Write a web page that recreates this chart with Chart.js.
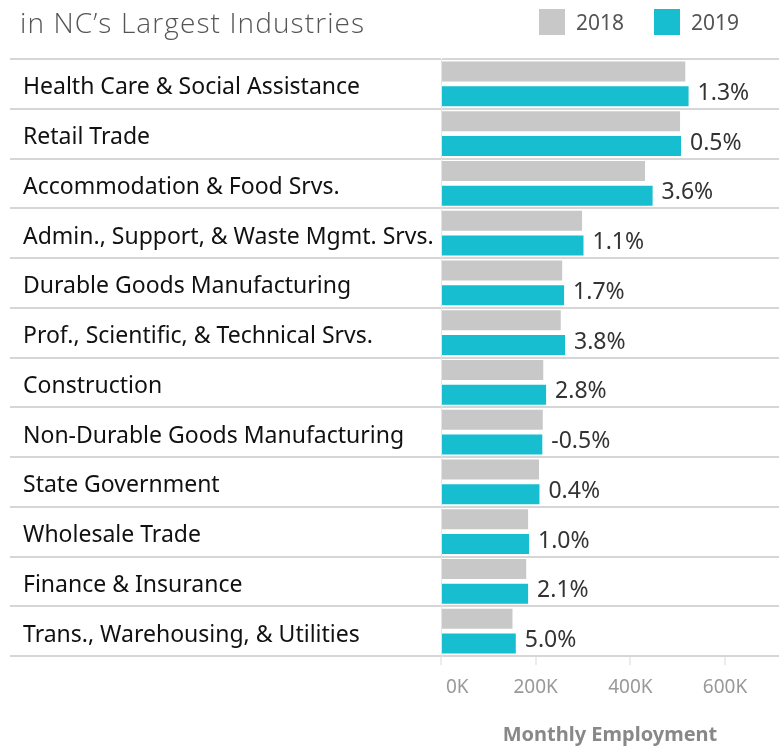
<!DOCTYPE html>
<html>
<head>
<meta charset="utf-8">
<script src="https://cdn.jsdelivr.net/npm/chart.js@4"></script>
<style>
  html, body { margin: 0; padding: 0; background: #fff; }
  #wrap { position: relative; width: 779px; height: 747px; }
  #title { position: absolute; left: 20px; top: 3px; font: 300 28px "Open Sans", sans-serif; letter-spacing: 1.1px; color: #555; white-space: nowrap; }
  #legend { position: absolute; top: 9px; left: 0; width: 779px; height: 26px; font: 21px "Noto Sans", sans-serif; color: #555; }
  #legend .box { position: absolute; top: 0; width: 26px; height: 26px; }
  #legend .lbl { position: absolute; top: -2px; line-height: 30px; }
  canvas { position: absolute; left: 0; top: 0; }
</style>
</head>
<body>
<div id="wrap">
  <canvas id="chart" width="779" height="747"></canvas>
  <div id="title">in NC’s Largest Industries</div>
  <div id="legend"></div>
</div>
<script>
"use strict";

const industries = [
  'Health Care & Social Assistance',
  'Retail Trade',
  'Accommodation & Food Srvs.',
  'Admin., Support, & Waste Mgmt. Srvs.',
  'Durable Goods Manufacturing',
  'Prof., Scientific, & Technical Srvs.',
  'Construction',
  'Non-Durable Goods Manufacturing',
  'State Government',
  'Wholesale Trade',
  'Finance & Insurance',
  'Trans., Warehousing, & Utilities'
];
const employment2018 = [516000, 505000, 431000, 298000, 256000, 253000, 216000, 215000, 207000, 184000, 180000, 151000];
const employment2019 = [523000, 507000, 447000, 301000, 260000, 262000, 222000, 214000, 208000, 186000, 184000, 158000];
const changeLabels = ['1.3%', '0.5%', '3.6%', '1.1%', '1.7%', '3.8%', '2.8%', '-0.5%', '0.4%', '1.0%', '2.1%', '5.0%'];
const xTicks = [0, 200000, 400000, 600000];

const GRAY = '#c8c8c8';
const TEAL = '#17becf';

// 2019バーの右に増減率を描く
const changeLabelPlugin = {
  id: 'changeLabels',
  afterDatasetsDraw(chart) {
    const meta = chart.getDatasetMeta(1);
    const c = chart.ctx;
    c.save();
    c.font = '23px "Noto Sans", sans-serif';
    c.fillStyle = '#333';
    c.textBaseline = 'middle';
    c.textAlign = 'left';
    meta.data.forEach((bar, i) => {
      c.fillText(changeLabels[i], bar.x + 9, bar.y - 3);
    });
    c.restore();
  }
};

const ctx = document.getElementById('chart').getContext('2d');
const chart = new Chart(ctx, {
  type: 'bar',
  data: {
    labels: industries,
    datasets: [
      { label: '2018', data: employment2018, backgroundColor: GRAY },
      { label: '2019', data: employment2019, backgroundColor: TEAL }
    ]
  },
  options: {
    indexAxis: 'y',
    responsive: false,
    animation: false,
    categoryPercentage: 1,
    barPercentage: 0.8,
    layout: { padding: { left: 23, top: 59, right: 0, bottom: 0 } },
    plugins: {
      legend: { display: false },
      tooltip: { enabled: false }
    },
    scales: {
      x: {
        min: 0,
        max: 714000,
        afterBuildTicks(scale) {
          scale.ticks = xTicks.map(v => ({ value: v }));
        },
        afterFit(scale) { scale.height = 91; },
        border: { display: false },
        grid: {
          drawOnChartArea: false,
          tickLength: 9,
          tickColor: '#ececec',
          lineWidth: 2
        },
        ticks: {
          padding: 11,
          color: '#999',
          font: { family: 'Noto Sans', size: 19 },
          maxRotation: 0,
          callback: v => (v === 0 ? '\u2007\u2007\u2007' : '') + (v / 1000) + 'K'
        },
        title: {
          display: true,
          text: 'Monthly Employment',
          color: '#888',
          font: { family: 'Noto Sans', size: 20, weight: 'bold' },
          padding: { top: 0, bottom: 0 }
        }
      },
      y: {
        afterFit(scale) { scale.width = 418; },
        border: { display: true, color: '#e4e4e4', width: 1 },
        grid: {
          offset: true,
          color: '#d6d6d6',
          lineWidth: 2,
          tickLength: 431
        },
        ticks: {
          autoSkip: false,
          crossAlign: 'far',
          labelOffset: 4,
          color: '#111',
          font: { family: 'Noto Sans', size: 23 }
        }
      }
    }
  },
  plugins: [changeLabelPlugin]
});

// 凡例はHTMLで作る
const legend = document.getElementById('legend');
const legendPos = [{ box: 539, text: 576 }, { box: 654, text: 691 }];
chart.data.datasets.forEach((ds, i) => {
  const box = document.createElement('div');
  box.className = 'box';
  box.style.left = legendPos[i].box + 'px';
  box.style.background = ds.backgroundColor;
  const lbl = document.createElement('div');
  lbl.className = 'lbl';
  lbl.style.left = legendPos[i].text + 'px';
  lbl.textContent = ds.label;
  legend.appendChild(box);
  legend.appendChild(lbl);
});
</script>
</body>
</html>
